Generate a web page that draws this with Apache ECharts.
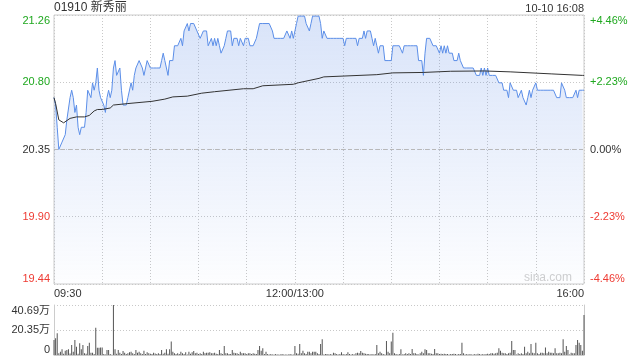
<!DOCTYPE html>
<html><head><meta charset="utf-8">
<script src="https://cdn.jsdelivr.net/npm/echarts@6/dist/echarts.min.js"></script>
<style>html,body{margin:0;padding:0;background:#fff}#c{width:640px;height:360px}</style>
</head><body><div id="c"></div>
<script>
const stockTitle = '01910 新秀丽';
const dateText = '10-10 16:08';
const prevClose = 20.35;
const priceAxisMin = 19.4424, priceAxisMax = 21.2576, priceAxisStep = 0.4538;
const priceTickLabels = ['19.44', '19.90', '20.35', '20.80', '21.26'];
const pctTickLabels = ['-4.46%', '-2.23%', '0.00%', '+2.23%', '+4.46%'];
const volTickLabels = ['0', '20.35万', '40.69万'];
const volAxisMax = 40.69;
const timeLabels = {0: '09:30', 5: '12:00/13:00', 11: '16:00'};

// minute-by-minute last price (0 = 09:30 ... 330 = 16:00)
const price = [
20.70,20.65,20.50,20.35,20.35,20.40,20.40,20.45,20.55,20.55,
20.70,20.75,20.70,20.60,20.65,20.50,20.45,20.50,20.50,20.50,
20.60,20.75,20.75,20.70,20.80,20.75,20.80,20.90,20.75,20.70,
20.70,20.65,20.60,20.70,20.75,20.70,20.75,20.90,20.95,20.85,
20.85,20.90,20.75,20.65,20.65,20.65,20.70,20.70,20.80,20.75,
20.85,20.90,20.90,20.95,20.95,20.90,20.85,20.90,20.95,20.95,
20.90,20.90,20.90,20.90,20.90,20.90,20.90,20.95,21.00,20.95,
20.90,20.85,20.95,20.95,20.95,21.05,21.05,21.05,21.05,21.10,
21.05,21.15,21.15,21.20,21.15,21.20,21.20,21.20,21.20,21.15,
21.15,21.10,21.10,21.15,21.15,21.15,21.05,21.05,21.10,21.05,
21.10,21.05,21.10,21.05,21.00,21.00,21.05,21.10,21.15,21.15,
21.15,21.05,21.10,21.10,21.10,21.05,21.10,21.10,21.05,21.10,
21.10,21.10,21.05,21.05,21.05,21.05,21.10,21.10,21.20,21.20,
21.20,21.20,21.20,21.20,21.20,21.20,21.15,21.10,21.10,21.10,
21.10,21.10,21.10,21.10,21.10,21.15,21.15,21.10,21.15,21.10,
21.15,21.20,21.25,21.25,21.25,21.25,21.25,21.20,21.20,21.15,
21.20,21.25,21.25,21.25,21.25,21.25,21.20,21.10,21.15,21.15,
21.10,21.10,21.10,21.10,21.10,21.10,21.10,21.10,21.10,21.10,
21.10,21.05,21.10,21.10,21.10,21.10,21.10,21.10,21.10,21.05,
21.10,21.10,21.10,21.15,21.10,21.15,21.15,21.15,21.10,21.05,
21.10,21.05,21.00,21.05,21.05,21.05,20.95,20.95,20.95,20.95,
20.95,21.05,21.05,21.05,21.05,21.05,21.05,21.00,21.05,21.05,
21.05,21.05,21.05,21.05,21.05,21.05,21.05,20.95,20.95,20.95,
20.85,21.00,21.10,21.10,21.10,21.10,21.05,21.05,21.05,21.05,
21.00,21.05,21.00,21.05,21.00,21.05,21.00,21.00,21.00,20.95,
20.95,20.95,21.00,20.95,20.95,20.90,20.90,20.90,20.90,20.90,
20.90,20.90,20.90,20.85,20.85,20.85,20.90,20.85,20.90,20.85,
20.90,20.85,20.85,20.85,20.85,20.85,20.85,20.80,20.80,20.80,
20.75,20.75,20.75,20.70,20.80,20.80,20.75,20.75,20.75,20.70,
20.70,20.75,20.70,20.70,20.65,20.70,20.75,20.70,20.75,20.75,
20.80,20.75,20.75,20.75,20.75,20.75,20.75,20.75,20.75,20.75,
20.75,20.75,20.75,20.70,20.70,20.70,20.80,20.80,20.75,20.70,
20.70,20.70,20.70,20.70,20.70,20.75,20.70,20.75,20.75,20.75,20.75
];

// average price line, read at these minutes
const avgMinutes = [0,1,3,6,10,14,19,22,25,27,30,35,37,46,61,69,74,83,92,100,118,124,130,149,152,165,168,201,211,230,247,268,284,297,310,329,330];
const avgValues = [20.70,20.66,20.55,20.53,20.56,20.57,20.57,20.58,20.61,20.62,20.62,20.63,20.65,20.66,20.675,20.69,20.705,20.71,20.73,20.74,20.76,20.76,20.78,20.79,20.80,20.83,20.84,20.855,20.867,20.87,20.878,20.88,20.874,20.867,20.86,20.85,20.85];

// volume per minute, in 万 shares
const volume = [
12.2,13.6,17.6,1.5,2.7,4.6,1.0,3.5,4.0,4.6,
1.2,8.1,2.7,12.2,6.8,1.0,9.5,4.6,8.1,1.4,
1.0,7.3,10.0,1.9,1.9,0.8,22.2,6.0,6.0,6.2,
6.2,0.8,0.5,4.0,4.0,0.8,0.3,40.69,4.6,1.0,
4.0,1.9,0.8,3.3,1.9,0.8,1.4,2.2,2.7,1.4,
0.8,4.0,1.9,2.7,1.4,0.8,3.5,0.8,2.2,1.4,
1.0,0.8,1.9,1.2,0.8,1.4,0.8,4.0,1.0,1.9,
4.6,1.0,4.6,10.9,2.7,1.4,0.8,1.4,0.8,2.7,
1.4,0.8,2.2,0.5,2.7,1.0,2.2,3.3,1.4,1.9,
0.8,1.4,0.8,2.7,1.4,1.9,1.9,2.2,1.4,1.4,
1.9,1.0,0.8,4.0,1.4,0.8,7.3,1.4,1.4,0.8,
0.8,4.0,1.9,1.4,1.4,0.8,2.7,1.4,1.4,1.4,
0.8,1.4,1.4,0.8,1.4,1.0,0.8,4.0,7.3,3.5,
5.4,0.8,2.7,0.8,0.5,0.8,0.5,0.5,0.8,0.5,
0.5,0.5,0.8,0.5,0.5,0.5,0.5,0.8,0.5,0.5,
7.3,1.4,1.0,9.0,1.4,3.5,1.4,0.8,2.7,2.7,
1.4,2.7,2.7,2.7,1.4,0.8,9.0,12.8,0.5,0.8,
0.8,0.5,0.8,0.5,1.9,1.4,0.8,0.5,0.8,2.2,
0.8,0.5,0.8,2.2,0.8,0.5,0.8,0.5,1.4,1.9,
1.4,3.3,1.9,1.4,1.0,0.8,0.8,0.5,0.8,0.5,
0.8,8.1,1.4,2.7,1.4,0.8,0.5,11.4,2.7,1.4,
10.9,18.2,1.4,0.8,0.5,0.8,4.6,0.5,0.8,1.4,
0.8,1.4,0.8,4.9,1.4,1.4,0.8,0.5,1.4,2.7,
1.4,4.6,4.0,1.4,1.4,1.0,0.8,4.9,1.4,1.4,
0.8,1.0,0.8,1.0,0.8,0.8,0.5,0.8,0.8,1.0,
0.8,0.5,0.8,0.8,10.0,1.4,0.5,0.8,0.5,0.8,
0.5,0.5,0.8,0.5,1.0,0.8,0.5,0.8,0.5,0.8,
1.0,0.8,1.4,1.4,1.0,1.4,1.9,5.4,3.5,1.9,
1.4,1.4,0.8,1.4,1.9,11.4,4.0,4.0,0.5,1.4,
0.8,1.4,0.8,6.8,1.4,2.7,1.4,9.0,1.9,1.4,
10.0,1.4,0.8,1.9,1.9,1.4,6.2,1.4,2.7,1.9,
1.9,1.4,5.4,1.4,1.4,1.9,1.4,12.8,2.7,7.3,
4.0,0.5,1.9,1.4,1.4,8.1,12.2,10.0,8.1,3.5,32.6
];

const GREEN = '#1fa81f', RED = '#ee3a32', DARK = '#333';
const FONT = '"Liberation Sans", Arial, "Noto Sans CJK SC", sans-serif';

const chart = echarts.init(document.getElementById('c'), null, {renderer: 'canvas'});
const dotted = {color: '#c8c8c8', type: [1, 2], width: 1};

chart.setOption({
  animation: false,
  textStyle: {fontFamily: FONT},
  title: [
    {text: stockTitle, left: 54, top: 2, padding: 0, textStyle: {fontSize: 12, fontWeight: 'normal', color: '#333', fontFamily: FONT}},
    {text: dateText, right: 56, top: 3, padding: 0, textStyle: {fontSize: 11, fontWeight: 'normal', color: '#333', fontFamily: FONT}}
  ],
  graphic: [{
    type: 'text', right: 68, top: 272, silent: true,
    style: {text: 'sina.com', fill: '#cfcfcf', font: '12px ' + FONT}
  }],
  grid: [
    {left: 54, right: 56, top: 15, height: 269, show: true, borderColor: '#cccccc', borderWidth: 1, backgroundColor: 'transparent'},
    {left: 54, right: 56, top: 305, height: 50}
  ],
  xAxis: [
    {type: 'value', gridIndex: 0, min: 0, max: 330, interval: 30,
     axisLine: {show: false}, axisTick: {show: false},
     splitLine: {show: true, lineStyle: dotted},
     axisLabel: {show: true, margin: 4, fontSize: 11, color: DARK, alignMinLabel: 'left', alignMaxLabel: 'right',
       showMinLabel: true, showMaxLabel: true,
       formatter: (v, i) => timeLabels[Math.round(v / 30)] || ''}},
    {type: 'value', gridIndex: 1, min: 0, max: 330, interval: 30,
     axisLine: {show: true, lineStyle: {color: '#cccccc'}}, axisTick: {show: false},
     splitLine: {show: false}, axisLabel: {show: false}}
  ],
  yAxis: [
    {type: 'value', gridIndex: 0, min: priceAxisMin, max: priceAxisMax, interval: priceAxisStep,
     axisLine: {show: false}, axisTick: {show: false},
     splitLine: {show: true, lineStyle: dotted},
     axisLabel: {margin: 4, fontSize: 11,
       verticalAlignMinLabel: 'bottom', verticalAlignMaxLabel: 'top',
       formatter: (v, i) => priceTickLabels[i],
       color: (v, i) => (i > 2 ? GREEN : (i < 2 ? RED : DARK))}},
    {type: 'value', gridIndex: 0, position: 'right', min: -4.46, max: 4.46, interval: 2.23,
     axisLine: {show: false}, axisTick: {show: false}, splitLine: {show: false},
     axisLabel: {margin: 6, fontSize: 11,
       verticalAlignMinLabel: 'bottom', verticalAlignMaxLabel: 'top',
       formatter: (v, i) => pctTickLabels[i],
       color: (v, i) => (i > 2 ? GREEN : (i < 2 ? RED : DARK))}},
    {type: 'value', gridIndex: 1, min: 0, max: volAxisMax, interval: volAxisMax / 2,
     axisLine: {show: true, lineStyle: {color: '#cccccc'}}, axisTick: {show: false},
     splitLine: {show: true, lineStyle: dotted},
     axisLabel: {margin: 4, fontSize: 11, color: DARK,
       verticalAlignMinLabel: 'bottom', verticalAlignMaxLabel: 'top',
       formatter: (v, i) => volTickLabels[i]}},
    {type: 'value', gridIndex: 1, position: 'right', min: 0, max: volAxisMax,
     axisLine: {show: true, lineStyle: {color: '#cccccc'}}, axisTick: {show: false},
     splitLine: {show: false}, axisLabel: {show: false}}
  ],
  series: [
    {type: 'line', xAxisIndex: 0, yAxisIndex: 0, symbol: 'none',
     data: price.map((v, i) => [i, v]),
     lineStyle: {color: '#5b8ee8', width: 1},
     areaStyle: {origin: 'start', color: new echarts.graphic.LinearGradient(0, 0, 0, 1, [
       {offset: 0, color: 'rgba(95,140,230,0.34)'},
       {offset: 1, color: 'rgba(95,140,230,0.02)'}])},
     markLine: {silent: true, symbol: 'none', label: {show: false},
       lineStyle: {color: '#b8b8b8', type: [4, 3], width: 1},
       data: [{yAxis: prevClose}]},
     z: 3},
    {type: 'line', xAxisIndex: 0, yAxisIndex: 0, symbol: 'none',
     data: avgMinutes.map((m, k) => [m, avgValues[k]]),
     lineStyle: {color: '#333333', width: 1}, z: 4},
    {type: 'bar', xAxisIndex: 1, yAxisIndex: 2, barWidth: 1,
     data: volume.map((v, i) => [i, v]),
     itemStyle: {color: '#555555'}}
  ]
});
</script>
</body></html>
